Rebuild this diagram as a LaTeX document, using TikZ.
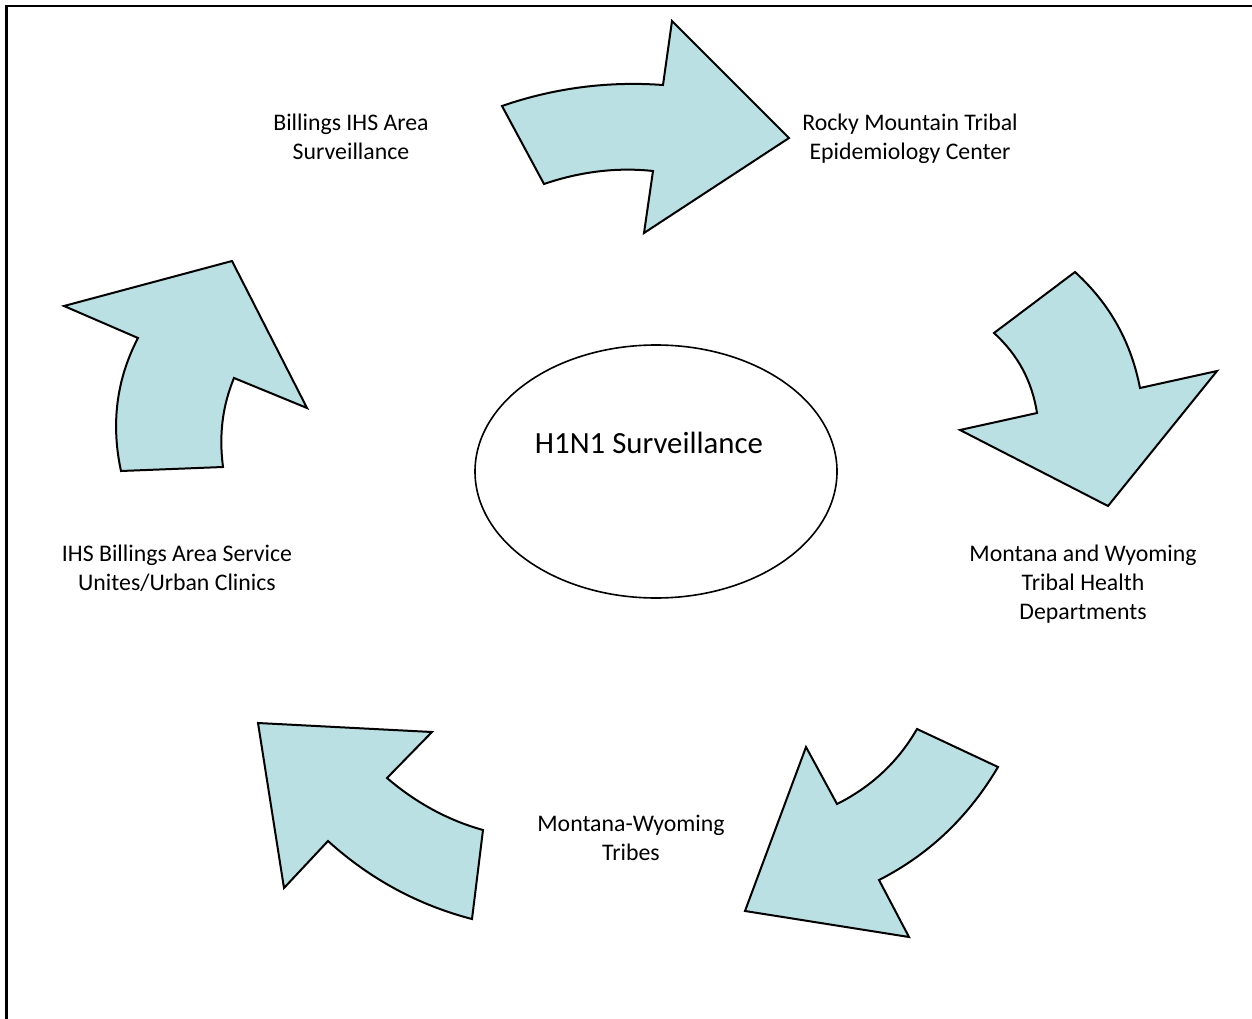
\documentclass[tikz,border=0pt]{standalone}
\usepackage{fontspec}
\setmainfont{Carlito}
\usetikzlibrary{shapes.geometric}

\definecolor{arrowfill}{RGB}{187,224,227}

\tikzset{%
  bigarrow/.style={fill=arrowfill, draw=black, line width=2, line join=miter},%
  lbl/.style={align=center, font=\fontsize{23.8}{29}\selectfont},%
}

\begin{document}
\begin{tikzpicture}[x=1pt, y=-1pt]
  \useasboundingbox (0,0) rectangle (1252,1019);

  % page frame, cut at the right and bottom
  \draw [line width=2.5] (6.5,1019) -- (6.5,6) -- (1252,6);

  % centre
  \node [draw, ellipse, line width=1.6, minimum width=362, minimum height=253] (core) at (656,471.5) {};
  \node [lbl, font=\fontsize{30.8}{37}\selectfont] (h1n1) at (649,443) {H1N1 Surveillance};

  % stations round the cycle
  \node [lbl] (billings) at (351,137) {Billings IHS Area\\Surveillance};
  \node [lbl] (rocky) at (910,139) {Rocky Mountain Tribal\\Epidemiology Center};
  \node [lbl] (tribalhd) at (1083,584) {Montana and Wyoming\\Tribal Health\\Departments};
  \node [lbl] (tribes) at (631,838) {Montana-Wyoming\\Tribes};
  \node [lbl] (clinics) at (177,568) {IHS Billings Area Service\\Unites/Urban Clinics};

  % curved block arrows
  \draw [bigarrow] (502,106) .. controls (554,88) and (608,81) .. (663,85)%
    -- (672,21) -- (789,138) -- (644,233) -- (653,171)%
    .. controls (616,167) and (579,172) .. (544,184) -- cycle;
  \draw [bigarrow] (1075,272) .. controls (1110,304) and (1131,342) .. (1140,388)%
    -- (1217,371) -- (1108,506) -- (960,430) -- (1037,413)%
    .. controls (1032,381) and (1018,355) .. (994,333) -- cycle;
  \draw [bigarrow] (917,729) -- (998,767)%
    .. controls (969,816) and (930,854) .. (879,880)%
    -- (909,937) -- (745,911) -- (806,747) -- (837,804)%
    .. controls (871,787) and (898,762) .. cycle;
  \draw [bigarrow] (258,723) -- (432,732) -- (387,778)%
    .. controls (415,802) and (447,820) .. (483,830) -- (472,919)%
    .. controls (418,905) and (370,879) .. (328,841) -- (284,888) -- cycle;
  \draw [bigarrow] (64,306) -- (232,261) -- (307,408) -- (234,378)%
    .. controls (222,407) and (219,436) .. (223,467) -- (121,471)%
    .. controls (111,425) and (116,380) .. (138,338) -- cycle;
\end{tikzpicture}
\end{document}
